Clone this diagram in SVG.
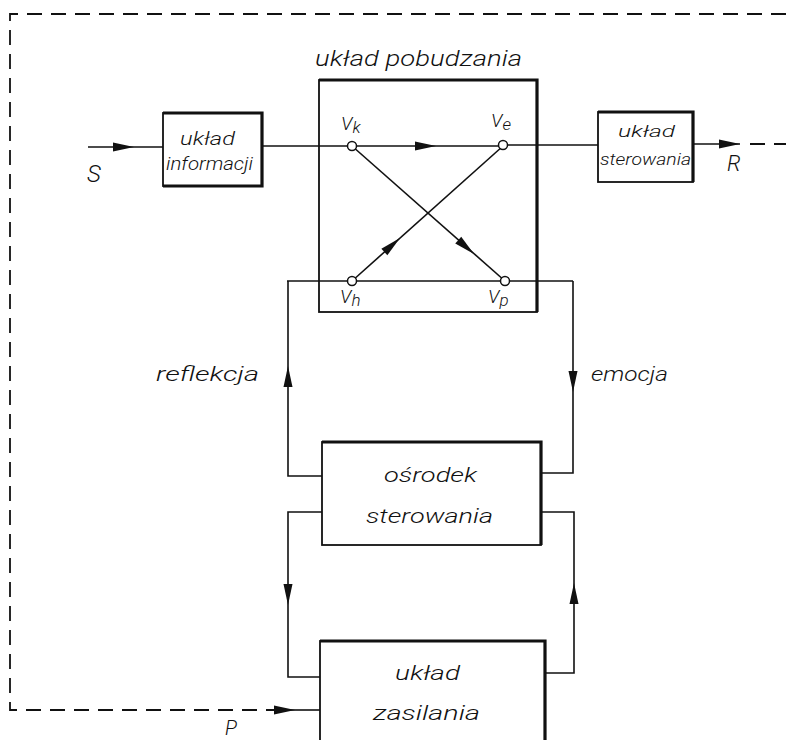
<svg xmlns="http://www.w3.org/2000/svg" width="786" height="740" viewBox="0 0 786 740">
<style>
.ln{fill:none;stroke:#111;stroke-width:1.6}
.dash{fill:none;stroke:#111;stroke-width:1.8;stroke-dasharray:15 9}
.box{fill:#fff;stroke:#111;stroke-width:1.8}
.edge{fill:none;stroke:#111;stroke-width:3.2}
.t{font-family:Roboto,"Liberation Sans",Arial,sans-serif;font-style:italic;font-weight:300;fill:#111}
.nd{fill:#fff;stroke:#111;stroke-width:1.5}
.ah{fill:#111}
</style>
<defs>
<path id="ah" d="M0,0 L-21,-4.5 L-21,4.5 Z"/>
</defs>
<rect width="786" height="740" fill="#fff"/>
<g id="connectors">
<path class="dash" d="M786,14 H10 V710 H290"/>
<path class="ln" d="M290,710 H320"/>
<use href="#ah" class="ah" transform="translate(295,710)"/>
<path class="ln" d="M88,147 H163"/>
<use href="#ah" class="ah" transform="translate(134,147)"/>
<path class="ln" d="M262,146 H503"/>
<use href="#ah" class="ah" transform="translate(436,146)"/>
<path class="ln" d="M503,145 H598"/>
<path class="ln" d="M693,144 H740"/>
<use href="#ah" class="ah" transform="translate(740,144)"/>
<path class="dash" d="M750,144 H786"/>
<path class="ln" d="M352,146 L505,281"/>
<use href="#ah" class="ah" transform="translate(474,254) rotate(41.4)"/>
<path class="ln" d="M352,281 L503,146"/>
<use href="#ah" class="ah" transform="translate(400,238) rotate(-41.8)"/>
<path class="ln" d="M287,281 H573"/>
<path class="ln" d="M322,476 H288 V281"/>
<use href="#ah" class="ah" transform="translate(288,366) rotate(-90)"/>
<path class="ln" d="M573,281 V473 H541"/>
<use href="#ah" class="ah" transform="translate(573,392) rotate(90)"/>
<path class="ln" d="M322,512 H288 V677 H320"/>
<use href="#ah" class="ah" transform="translate(288,605) rotate(90)"/>
<path class="ln" d="M545,673 H574 V512 H541"/>
<use href="#ah" class="ah" transform="translate(574,583) rotate(-90)"/>
</g>
<g id="uklad-pobudzania">
<rect class="box" x="319" y="80" width="218" height="232" style="fill:none"/>
<path class="edge" d="M319,80 H537 V312"/>
<text class="t" x="315" y="66" font-size="22" textLength="207" lengthAdjust="spacingAndGlyphs">układ pobudzania</text>
</g>
<g id="uklad-informacji">
<rect class="box" x="163" y="113" width="99" height="73"/>
<path class="edge" d="M163,113 H262 V186 H163"/>
<text class="t" x="180" y="145" font-size="18" textLength="55" lengthAdjust="spacingAndGlyphs">układ</text>
<text class="t" x="166" y="170" font-size="18" textLength="87" lengthAdjust="spacingAndGlyphs">informacji</text>
</g>
<g id="uklad-sterowania">
<rect class="box" x="598" y="112" width="95" height="70"/>
<path class="edge" d="M598,112 H693 V182"/>
<text class="t" x="618" y="137" font-size="17" textLength="57" lengthAdjust="spacingAndGlyphs">układ</text>
<text class="t" x="600" y="165" font-size="17" textLength="91" lengthAdjust="spacingAndGlyphs">sterowania</text>
</g>
<g id="osrodek-sterowania">
<rect class="box" x="322" y="442" width="219" height="103"/>
<path class="edge" d="M322,442 H541 V545"/>
<text class="t" x="384" y="482" font-size="21" textLength="93" lengthAdjust="spacingAndGlyphs">ośrodek</text>
<text class="t" x="366" y="523" font-size="21" textLength="127" lengthAdjust="spacingAndGlyphs">sterowania</text>
</g>
<g id="uklad-zasilania">
<rect class="box" x="320" y="641" width="225" height="110"/>
<path class="edge" d="M320,641 H545 V740"/>
<text class="t" x="395" y="680" font-size="21" textLength="65" lengthAdjust="spacingAndGlyphs">układ</text>
<text class="t" x="373" y="720" font-size="21" textLength="107" lengthAdjust="spacingAndGlyphs">zasilania</text>
</g>
<g id="node-vk">
<circle class="nd" cx="352" cy="146" r="4.5"/>
<text class="t" x="341" y="130" font-size="19">V<tspan font-size="17" dy="3">k</tspan></text>
</g>
<g id="node-ve">
<circle class="nd" cx="503" cy="145" r="4.5"/>
<text class="t" x="491" y="127" font-size="19">V<tspan font-size="17" dy="3">e</tspan></text>
</g>
<g id="node-vh">
<circle class="nd" cx="352" cy="281" r="4.5"/>
<text class="t" x="340" y="303" font-size="19">V<tspan font-size="17" dy="3">h</tspan></text>
</g>
<g id="node-vp">
<circle class="nd" cx="505" cy="281" r="4.5"/>
<text class="t" x="488" y="303" font-size="19">V<tspan font-size="17" dy="3">p</tspan></text>
</g>
<g id="labels">
<text class="t" x="87" y="182" font-size="24">S</text>
<text class="t" x="727" y="171" font-size="22">R</text>
<text class="t" x="225" y="735" font-size="20">P</text>
<text class="t" x="156" y="381" font-size="20" textLength="103" lengthAdjust="spacingAndGlyphs">reflekcja</text>
<text class="t" x="591" y="381" font-size="20" textLength="77" lengthAdjust="spacingAndGlyphs">emocja</text>
</g>
</svg>
